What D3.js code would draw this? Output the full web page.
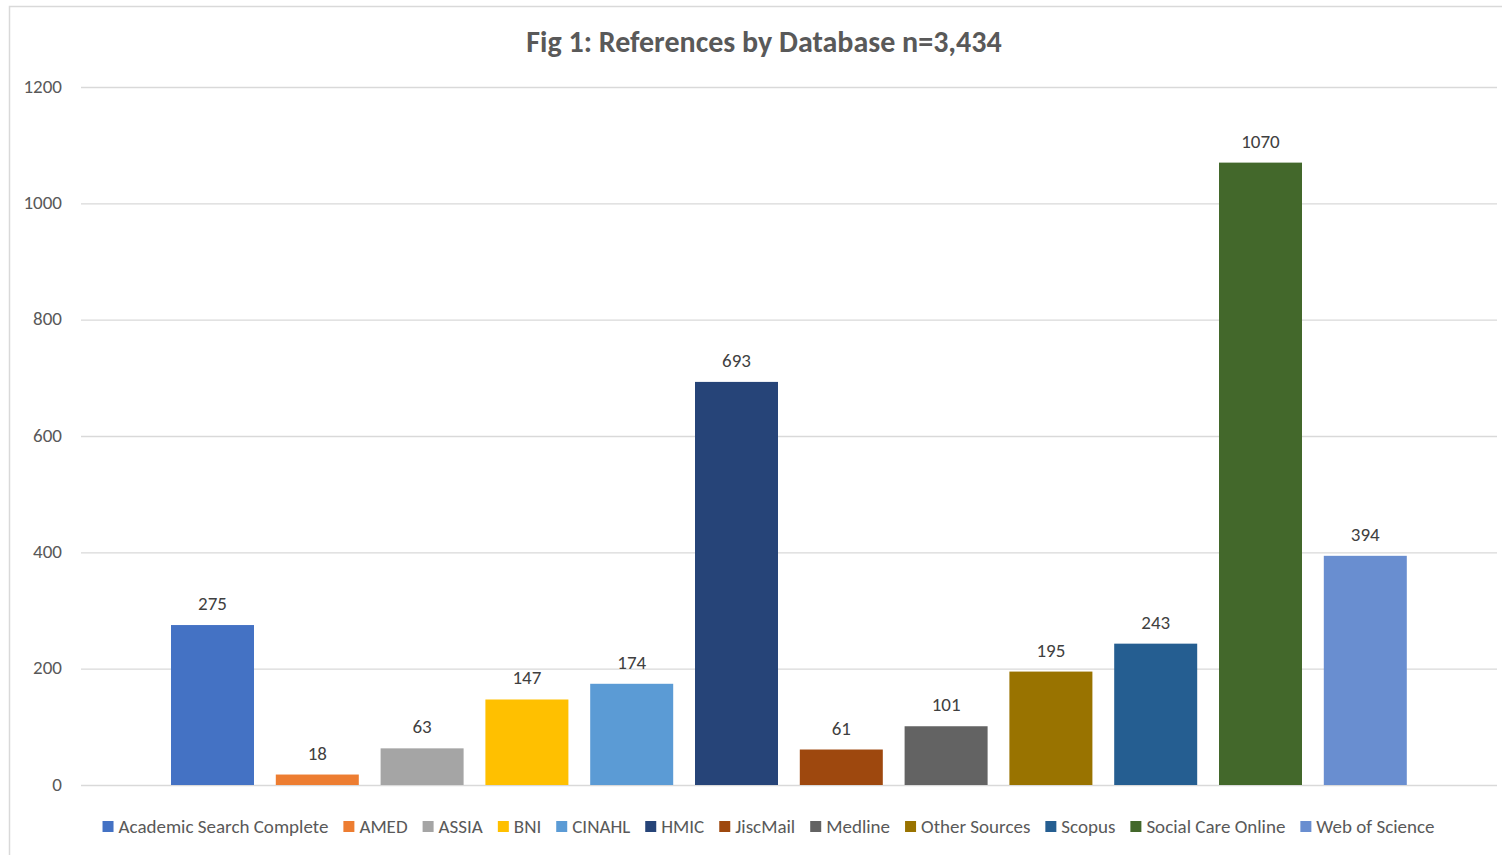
<!DOCTYPE html>
<html><head><meta charset="utf-8">
<script src="https://cdn.jsdelivr.net/npm/d3@7"></script>
<style>
html,body{margin:0;padding:0;background:#fff;}
svg{display:block;font-family:Calibri, Carlito, Lato, "Open Sans", sans-serif;}
</style></head>
<body><svg id="c" width="1502" height="855"></svg>
<script>
const categories = ["Academic Search Complete","AMED","ASSIA","BNI","CINAHL","HMIC","JiscMail","Medline","Other Sources","Scopus","Social Care Online","Web of Science"];
const values = [275,18,63,147,174,693,61,101,195,243,1070,394];
const colors = ["#4472C4","#ED7D31","#A5A5A5","#FFC000","#5B9BD5","#264478","#9E480E","#636363","#997300","#255E91","#43682B","#698ED0"];
const yTicks = [0,200,400,600,800,1000,1200];
const title = "Fig 1: References by Database n=3,434";

const svg = d3.select("#c");
svg.append("rect").attr("x",9.5).attr("y",6.5).attr("width",1500).attr("height",860)
  .attr("fill","#fff").attr("stroke","#D9D9D9").attr("stroke-width",1.5);

const y = d3.scaleLinear().domain([0,1200]).range([785,87]);
const x = d3.scaleBand().domain(categories).range([160.1,1417.7]).paddingInner(0.208).paddingOuter(0.104);
const gridX0 = 81, gridX1 = 1497;

svg.append("g").selectAll("line").data(yTicks).join("line")
  .attr("x1",gridX0).attr("x2",gridX1)
  .attr("y1",d=>y(d)+0.5).attr("y2",d=>y(d)+0.5)
  .attr("stroke","#D9D9D9").attr("stroke-width",1.3);

svg.append("g").selectAll("text").data(yTicks).join("text")
  .attr("x",62).attr("y",d=>y(d)-1).attr("dy","0.35em")
  .attr("text-anchor","end").attr("fill","#595959").attr("font-size",19)
  .text(d=>d);

const data = categories.map((c,i)=>({c,v:values[i],col:colors[i]}));
svg.append("g").selectAll("rect").data(data).join("rect")
  .attr("x",d=>x(d.c)).attr("width",x.bandwidth())
  .attr("y",d=>y(d.v)).attr("height",d=>y(0)-y(d.v))
  .attr("fill",d=>d.col);

svg.append("g").selectAll("text").data(data).join("text")
  .attr("x",d=>x(d.c)+x.bandwidth()/2).attr("y",d=>y(d.v)-15)
  .attr("text-anchor","middle").attr("fill","#404040").attr("font-size",19)
  .text(d=>d.v);

svg.append("text").attr("x",764).attr("y",52).attr("text-anchor","middle")
  .attr("fill","#595959").attr("font-size",30).attr("font-weight","bold").text(title);

// legend
const lg = svg.append("g");
const items = lg.selectAll("g").data(data).join("g");
items.append("rect").attr("width",11).attr("height",11).attr("y",-5.5).attr("fill",d=>d.col);
items.append("text").attr("x",16).attr("dy","0.35em").attr("fill","#595959").attr("font-size",19).text(d=>d.c);
let cx = 0;
const pos = [];
items.each(function(d){
  const w = 16 + this.querySelector("text").getComputedTextLength();
  pos.push(cx); cx += w + 15;
});
const total = cx - 15;
const start = 768.5 - total/2;
items.attr("transform",(d,i)=>`translate(${start+pos[i]},826.5)`);
</script></body></html>
